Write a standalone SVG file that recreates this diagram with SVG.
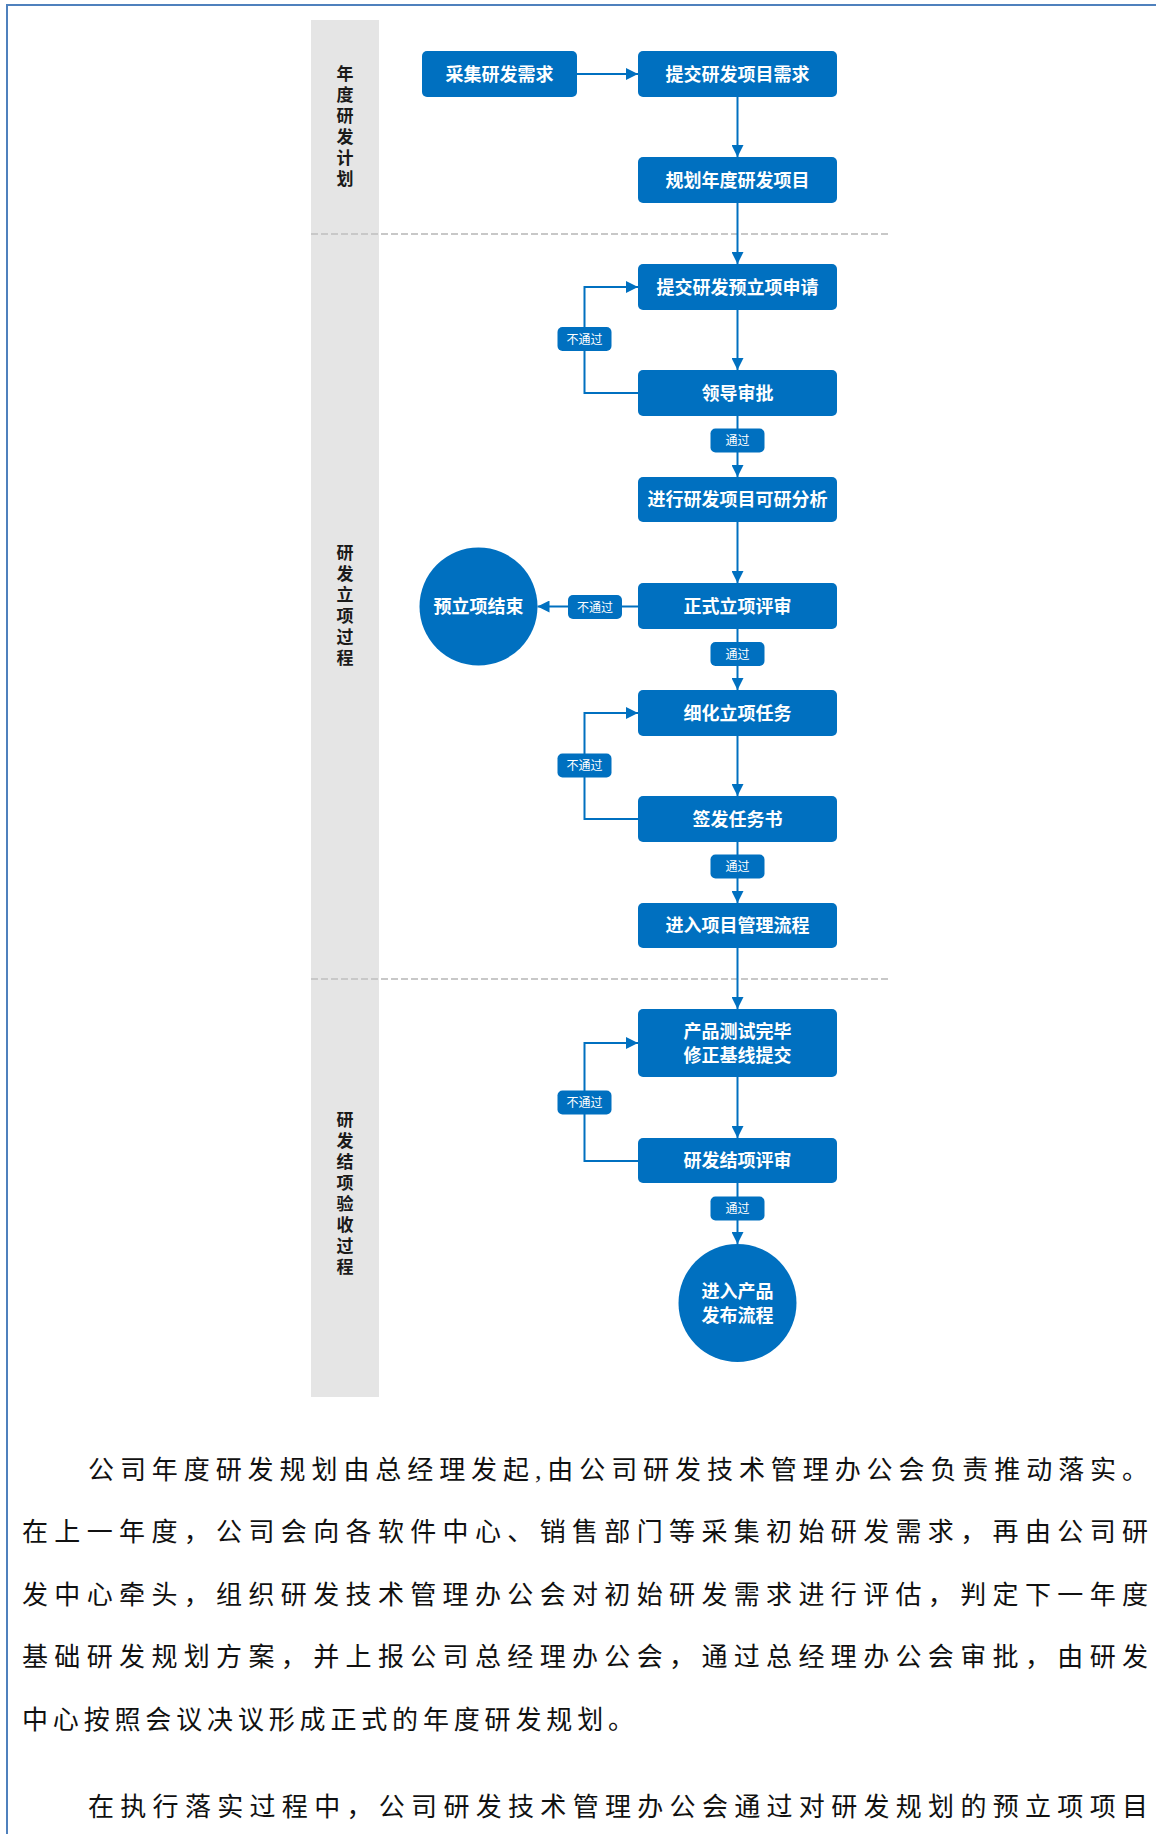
<svg xmlns="http://www.w3.org/2000/svg" width="1156" height="1834" viewBox="0 0 1156 1834">
<style>
.box{fill:#0070c0;}
.nt{font-family:"Noto Sans CJK SC","Noto Sans",sans-serif;font-size:18px;font-weight:bold;fill:#ffffff;text-anchor:middle;}
.lbl{fill:#0070c0;}
.lt{font-family:"Noto Sans CJK SC","Noto Sans",sans-serif;font-size:12px;fill:#ffffff;text-anchor:middle;}
.lane{font-family:"Noto Sans CJK SC","Noto Sans",sans-serif;font-size:17px;font-weight:bold;fill:#1a1a1a;writing-mode:vertical-rl;letter-spacing:4px;}
.con{fill:none;stroke:#0070c0;stroke-width:2;}
.dash{stroke:#c8c8c8;stroke-width:2;stroke-dasharray:7 3;}
.para{font-family:"Liberation Serif","Noto Sans CJK SC",serif;font-size:26px;fill:#111111;}
</style>
<defs>
<marker id="arr" markerUnits="userSpaceOnUse" markerWidth="12" markerHeight="12" refX="12" refY="6" orient="auto">
<path d="M0,0 L12,6 L0,12 z" fill="#0070c0"/>
</marker>
</defs>
<rect x="0" y="0" width="1156" height="1834" fill="#ffffff"/>
<path d="M7,1834 V5 H1156" fill="none" stroke="#4f81bd" stroke-width="2"/>

<g id="lanes">
<rect x="311" y="20" width="68" height="1377" fill="#e5e5e5"/>
<line class="dash" x1="311" y1="234" x2="889" y2="234"/>
<line class="dash" x1="311" y1="979" x2="889" y2="979"/>
<text class="lane" x="345" y="65.5">年度研发计划</text>
<text class="lane" x="345" y="544.5">研发立项过程</text>
<text class="lane" x="345" y="1111.5">研发结项验收过程</text>
</g>

<g id="connectors">
<line class="con" x1="577" y1="74" x2="638" y2="74" marker-end="url(#arr)"/>
<line class="con" x1="737.5" y1="97" x2="737.5" y2="157" marker-end="url(#arr)"/>
<line class="con" x1="737.5" y1="203" x2="737.5" y2="264" marker-end="url(#arr)"/>
<line class="con" x1="737.5" y1="310" x2="737.5" y2="370" marker-end="url(#arr)"/>
<line class="con" x1="737.5" y1="416" x2="737.5" y2="477" marker-end="url(#arr)"/>
<path class="con" d="M638,393 H584.5 V287 H638" marker-end="url(#arr)"/>
<line class="con" x1="737.5" y1="522" x2="737.5" y2="583" marker-end="url(#arr)"/>
<line class="con" x1="638" y1="606.5" x2="537.5" y2="606.5" marker-end="url(#arr)"/>
<line class="con" x1="737.5" y1="629" x2="737.5" y2="690" marker-end="url(#arr)"/>
<line class="con" x1="737.5" y1="736" x2="737.5" y2="796" marker-end="url(#arr)"/>
<path class="con" d="M638,819 H584.5 V713 H638" marker-end="url(#arr)"/>
<line class="con" x1="737.5" y1="842" x2="737.5" y2="903" marker-end="url(#arr)"/>
<line class="con" x1="737.5" y1="948" x2="737.5" y2="1009" marker-end="url(#arr)"/>
<line class="con" x1="737.5" y1="1077" x2="737.5" y2="1138" marker-end="url(#arr)"/>
<path class="con" d="M638,1161 H584.5 V1043 H638" marker-end="url(#arr)"/>
<line class="con" x1="737.5" y1="1183" x2="737.5" y2="1244" marker-end="url(#arr)"/>
<g id="edge-labels">
<rect class="lbl" x="557.5" y="327" width="54" height="24" rx="5"/><text class="lt" x="584.5" y="343.5">不通过</text>
<rect class="lbl" x="710.5" y="428.5" width="54" height="24" rx="5"/><text class="lt" x="737.5" y="445">通过</text>
<rect class="lbl" x="568" y="595" width="54" height="24" rx="5"/><text class="lt" x="595" y="611.5">不通过</text>
<rect class="lbl" x="710.5" y="642" width="54" height="24" rx="5"/><text class="lt" x="737.5" y="658.5">通过</text>
<rect class="lbl" x="557.5" y="753.5" width="54" height="24" rx="5"/><text class="lt" x="584.5" y="770">不通过</text>
<rect class="lbl" x="710.5" y="854.5" width="54" height="24" rx="5"/><text class="lt" x="737.5" y="871">通过</text>
<rect class="lbl" x="557.5" y="1090.5" width="54" height="24" rx="5"/><text class="lt" x="584.5" y="1107">不通过</text>
<rect class="lbl" x="710.5" y="1196.5" width="54" height="24" rx="5"/><text class="lt" x="737.5" y="1213">通过</text>
</g>
</g>

<g id="n1"><rect class="box" x="422" y="51" width="155" height="46" rx="5"/><text class="nt" x="499.5" y="80.5">采集研发需求</text></g>
<g id="n2"><rect class="box" x="638" y="51" width="199" height="46" rx="5"/><text class="nt" x="737.5" y="80.5">提交研发项目需求</text></g>
<g id="n3"><rect class="box" x="638" y="157" width="199" height="46" rx="5"/><text class="nt" x="737.5" y="186.5">规划年度研发项目</text></g>
<g id="n4"><rect class="box" x="638" y="264" width="199" height="46" rx="5"/><text class="nt" x="737.5" y="293.5">提交研发预立项申请</text></g>
<g id="n5"><rect class="box" x="638" y="370" width="199" height="46" rx="5"/><text class="nt" x="737.5" y="399.5">领导审批</text></g>
<g id="n6"><rect class="box" x="638" y="477" width="199" height="45" rx="5"/><text class="nt" x="737.5" y="506">进行研发项目可研分析</text></g>
<g id="n7"><rect class="box" x="638" y="583" width="199" height="46" rx="5"/><text class="nt" x="737.5" y="612.5">正式立项评审</text></g>
<g id="n8"><circle class="box" cx="478.5" cy="606.5" r="59"/><text class="nt" x="478.5" y="613">预立项结束</text></g>
<g id="n9"><rect class="box" x="638" y="690" width="199" height="46" rx="5"/><text class="nt" x="737.5" y="719.5">细化立项任务</text></g>
<g id="n10"><rect class="box" x="638" y="796" width="199" height="46" rx="5"/><text class="nt" x="737.5" y="825.5">签发任务书</text></g>
<g id="n11"><rect class="box" x="638" y="903" width="199" height="45" rx="5"/><text class="nt" x="737.5" y="932">进入项目管理流程</text></g>
<g id="n12"><rect class="box" x="638" y="1009" width="199" height="68" rx="5"/><text class="nt"><tspan x="737.5" y="1038">产品测试完毕</tspan><tspan x="737.5" y="1061.5">修正基线提交</tspan></text></g>
<g id="n13"><rect class="box" x="638" y="1138" width="199" height="45" rx="5"/><text class="nt" x="737.5" y="1167">研发结项评审</text></g>
<g id="n14"><circle class="box" cx="737.5" cy="1303" r="59"/><text class="nt"><tspan x="737.5" y="1298">进入产品</tspan><tspan x="737.5" y="1321.5">发布流程</tspan></text></g>

<g id="paragraph">
<text class="para" x="88" y="1479" textLength="1060" lengthAdjust="spacing">公司年度研发规划由总经理发起,由公司研发技术管理办公会负责推动落实。</text>
<text class="para" x="22" y="1541" textLength="1126" lengthAdjust="spacing">在上一年度，公司会向各软件中心、销售部门等采集初始研发需求，再由公司研</text>
<text class="para" x="22" y="1604" textLength="1126" lengthAdjust="spacing">发中心牵头，组织研发技术管理办公会对初始研发需求进行评估，判定下一年度</text>
<text class="para" x="22" y="1666" textLength="1126" lengthAdjust="spacing">基础研发规划方案，并上报公司总经理办公会，通过总经理办公会审批，由研发</text>
<text class="para" x="22" y="1729" textLength="612" lengthAdjust="spacing">中心按照会议决议形成正式的年度研发规划。</text>
<text class="para" x="88" y="1816" textLength="1060" lengthAdjust="spacing">在执行落实过程中，公司研发技术管理办公会通过对研发规划的预立项项目</text>
</g>
</svg>
